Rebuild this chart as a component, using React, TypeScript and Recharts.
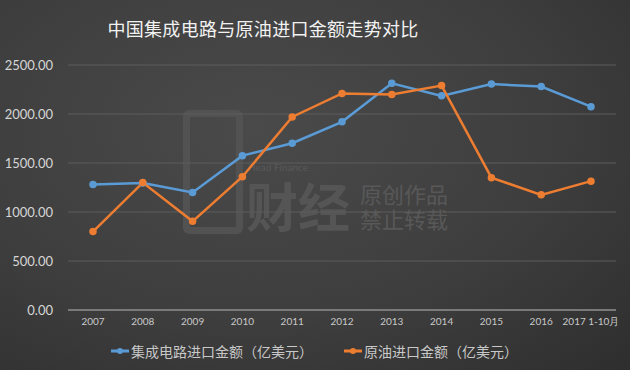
import React from "react";
import { LineChart, Line, XAxis, YAxis, CartesianGrid } from "recharts";

const years = [
  "2007",
  "2008",
  "2009",
  "2010",
  "2011",
  "2012",
  "2013",
  "2014",
  "2015",
  "2016",
  "2017 1-10月",
];
const chipImports = [1280, 1295, 1200, 1575, 1702, 1920, 2313, 2185, 2305, 2280, 2075];
const oilImports = [800, 1300, 905, 1360, 1970, 2210, 2200, 2290, 1350, 1175, 1315];
const yTicks = [0, 500, 1000, 1500, 2000, 2500];

const chipName = "集成电路进口金额（亿美元）";
const oilName = "原油进口金额（亿美元）";

const data = years.map((year, i) => ({
  year,
  chip: chipImports[i],
  oil: oilImports[i],
}));

const BLUE = "#5b9bd5";
const ORANGE = "#ed7d31";
const cjk = '"Noto Sans CJK SC", "Noto Sans", sans-serif';

function LegendItems() {
  const items = [
    { name: chipName, color: BLUE, left: 110 },
    { name: oilName, color: ORANGE, left: 343 },
  ];
  return (
    <>
      {items.map((it) => (
        <div
          key={it.name}
          style={{
            position: "absolute",
            left: it.left,
            top: 341,
            display: "flex",
            alignItems: "center",
            color: "#c8c8c8",
            fontSize: 14,
            fontFamily: cjk,
            whiteSpace: "nowrap",
          }}
        >
          <svg width={20} height={10} style={{ marginRight: 1 }}>
            <line x1={1} y1={5} x2={19} y2={5} stroke={it.color} strokeWidth={3} />
            <circle cx={10} cy={5} r={3} fill={it.color} />
          </svg>
          {it.name}
        </div>
      ))}
    </>
  );
}

// faint publisher watermark behind the plot
function Watermark() {
  return (
    <>
      <div
        style={{
          position: "absolute",
          left: 183,
          top: 110,
          width: 60,
          height: 124,
          border: "7px solid #525252",
          borderRadius: 6,
          boxSizing: "border-box",
        }}
      />
      <div
        style={{
          position: "absolute",
          left: 246,
          top: 180,
          color: "#555",
          fontSize: 52,
          fontWeight: 700,
          lineHeight: "50px",
          fontFamily: cjk,
        }}
      >
        财经
      </div>
      <div
        style={{
          position: "absolute",
          left: 248,
          top: 161,
          color: "#5a5a5a",
          fontSize: 10,
          lineHeight: "12px",
          fontFamily: "Lato, sans-serif",
        }}
      >
        Head Finance
      </div>
      <div
        style={{
          position: "absolute",
          left: 360,
          top: 181,
          color: "#585858",
          fontSize: 22,
          lineHeight: "25px",
          fontFamily: cjk,
        }}
      >
        原创作品
        <br />
        禁止转载
      </div>
    </>
  );
}

export default function App() {
  return (
    <div
      style={{
        position: "absolute",
        top: 0,
        left: 0,
        width: 630,
        height: 370,
        background:
          "radial-gradient(ellipse at 40% 35%, #4a4a4a 0%, #3e3e3e 55%, #2e2e2e 100%)",
        overflow: "hidden",
      }}
    >
      <div
        style={{
          position: "absolute",
          top: 15,
          left: 0,
          width: 526,
          textAlign: "center",
          color: "#f2f2f2",
          fontSize: 18,
          fontFamily: cjk,
          letterSpacing: 0.3,
        }}
      >
        中国集成电路与原油进口金额走势对比
      </div>
      <Watermark />
      <div style={{ position: "absolute", top: 0, left: 0 }}>
        <LineChart
          width={630}
          height={370}
          data={data}
          margin={{ top: 65, right: 14, bottom: 30, left: 0 }}
        >
          <CartesianGrid stroke="#5c5c5c" strokeWidth={1} vertical={false} />
          <XAxis
            dataKey="year"
            tickLine={false}
            padding={{ left: 25, right: 25 }}
            axisLine={{ stroke: "#8a8a8a", strokeWidth: 1.5 }}
            tick={{ fill: "#c8c8c8", fontSize: 10, fontFamily: "Lato, sans-serif" }}
            interval={0}
          />
          <YAxis
            domain={[0, 2500]}
            ticks={yTicks}
            width={68}
            tickLine={false}
            axisLine={false}
            tickMargin={9}
            tickFormatter={(v) => Number(v).toFixed(2)}
            tick={{ fill: "#d6d6d6", fontSize: 13, fontFamily: "Lato, sans-serif" }}
          />
          <Line
            type="linear"
            dataKey="chip"
            name={chipName}
            stroke={BLUE}
            strokeWidth={2.5}
            dot={{ r: 2.5, fill: BLUE, stroke: BLUE }}
            isAnimationActive={false}
          />
          <Line
            type="linear"
            dataKey="oil"
            name={oilName}
            stroke={ORANGE}
            strokeWidth={2.5}
            dot={{ r: 2.5, fill: ORANGE, stroke: ORANGE }}
            isAnimationActive={false}
          />
        </LineChart>
      </div>
      <LegendItems />
    </div>
  );
}
